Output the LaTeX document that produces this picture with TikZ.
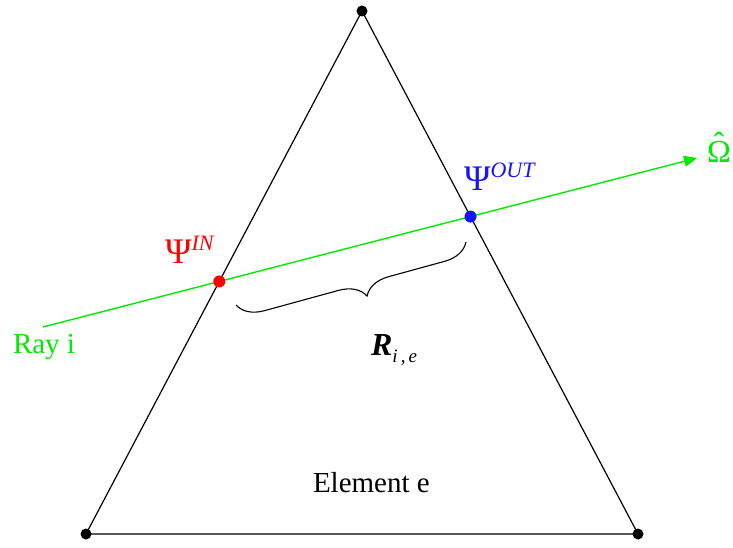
\documentclass[tikz,border=0pt]{standalone}
\usepackage{fontspec}
\setmainfont{Liberation Serif}
\usetikzlibrary{decorations.pathreplacing,arrows.meta}
\definecolor{raygreen}{RGB}{0,235,0}
\definecolor{inred}{RGB}{255,0,0}
\definecolor{outblue}{RGB}{20,20,255}
\begin{document}
\begin{tikzpicture}[x=1pt,y=-1pt,
  edge/.style={draw=black,line width=1.2pt},
  ray/.style={draw=raygreen,line width=1.4pt},
  vdot/.style={circle,fill=black,inner sep=0pt,minimum size=11pt},
  pdot/.style={circle,inner sep=0pt,minimum size=12pt},
  lbl/.style={anchor=base west,inner sep=0pt,outer sep=0pt},
  big/.style={font=\fontsize{29}{29}\selectfont}]
\useasboundingbox (0,0) rectangle (733,548);
% vertices
\coordinate (A) at (362,11);
\coordinate (B) at (86,534);
\coordinate (C) at (638,534);
% ray
\coordinate (rs) at (43,327);
\coordinate (re) at (697,158);
\coordinate (pin) at (intersection of A--B and rs--re);
\coordinate (pout) at (intersection of A--C and rs--re);
% triangle
\draw[edge] (A) -- (B) -- (C) -- cycle;
% ray with arrow
\draw[ray,-{Triangle[length=13pt,width=11pt]}] (rs) -- (re);
% brace
\coordinate (br1) at (466,242);
\coordinate (br2) at (236,305);
\draw[black,line width=1.1pt,decorate,decoration={brace,amplitude=26pt,aspect=0.46}] (br1) -- (br2);
% dots
\node[vdot] (nA) at (A) {};
\node[vdot] (nB) at (B) {};
\node[vdot] (nC) at (C) {};
\node[pdot,fill=inred] (nin) at (pin) {};
\node[pdot,fill=outblue] (nout) at (pout) {};
% labels
\node[lbl,text=raygreen,big] (rayl) at (13,353) {Ray i};
\node[lbl,text=inred] (psiin) at (165,263) {\fontsize{36}{36}\selectfont Ψ\raisebox{13pt}{\fontsize{22}{22}\selectfont\itshape IN}};
\node[lbl,text=outblue] (psiout) at (464,190) {\fontsize{36}{36}\selectfont Ψ\raisebox{13pt}{\fontsize{22}{22}\selectfont\itshape OUT}};
\node[lbl,text=raygreen] (omega) at (707,163) {\fontsize{32}{32}\selectfont\setbox0\hbox{Ω}\rlap{\copy0}\makebox[\wd0][c]{\raisebox{8pt}{ˆ}}};
\node[lbl] (rie) at (371,355) {\fontsize{32}{32}\selectfont\bfseries\itshape R\raisebox{-7pt}{\fontsize{19}{19}\selectfont\mdseries\itshape i\,,\,e}};
\node[lbl,big] (elem) at (313,492) {Element e};
\end{tikzpicture}
\end{document}
